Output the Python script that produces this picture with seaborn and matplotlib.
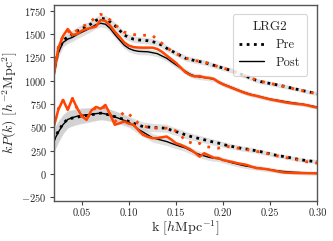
import numpy as np
import pandas as pd
import matplotlib
matplotlib.use("Agg")
import matplotlib.pyplot as plt
import seaborn as sns
from matplotlib.lines import Line2D

sns.set_theme(style="ticks")
plt.rcParams["font.family"] = ["serif"]
plt.rcParams["font.serif"] = ["cmr10", "DejaVu Serif"]
plt.rcParams["mathtext.fontset"] = "cm"
plt.rcParams["axes.formatter.use_mathtext"] = True

k = [0.020, 0.025, 0.030, 0.035, 0.040, 0.045, 0.050, 0.055, 0.060, 0.065,
     0.070, 0.075, 0.080, 0.085, 0.090, 0.095, 0.100, 0.105, 0.110, 0.115,
     0.120, 0.125, 0.130, 0.135, 0.140, 0.145, 0.150, 0.155, 0.160, 0.165,
     0.170, 0.175, 0.180, 0.185, 0.190, 0.195, 0.200, 0.205, 0.210, 0.215,
     0.220, 0.225, 0.230, 0.235, 0.240, 0.245, 0.250, 0.255, 0.260, 0.265,
     0.270, 0.275, 0.280, 0.285, 0.290, 0.295, 0.300]

# upper group (monopole-like)
up_post_mean = [1075, 1300, 1410, 1445, 1465, 1495, 1520, 1544, 1570, 1600,
                1615, 1605, 1560, 1495, 1437, 1380, 1345, 1325, 1315, 1312,
                1310, 1300, 1290, 1265, 1241, 1205, 1170, 1135, 1100, 1070,
                1050, 1040, 1035, 1027, 1015, 990, 965, 945, 925, 905,
                885, 868, 852, 840, 828, 815, 803, 795, 787, 778,
                770, 762, 755, 748, 738, 728, 718]
up_post_data = [1050, 1350, 1480, 1554, 1490, 1500, 1535, 1555, 1565, 1580,
                1650, 1640, 1590, 1525, 1470, 1410, 1375, 1360, 1355, 1354,
                1354, 1354, 1340, 1310, 1270, 1230, 1190, 1140, 1090, 1060,
                1045, 1050, 1035, 1030, 1020, 985, 960, 940, 920, 900,
                880, 862, 848, 838, 825, 812, 800, 790, 780, 770,
                762, 755, 750, 745, 735, 722, 712]
up_pre_mean = [1080, 1320, 1430, 1470, 1495, 1530, 1560, 1579, 1610, 1645,
               1669, 1660, 1630, 1590, 1540, 1490, 1462, 1445, 1437, 1432,
               1428, 1418, 1405, 1380, 1348, 1320, 1294, 1268, 1241, 1228,
               1215, 1205, 1195, 1180, 1165, 1150, 1135, 1120, 1105, 1085,
               1065, 1045, 1025, 1005, 990, 980, 970, 960, 950, 940,
               928, 915, 905, 893, 882, 872, 862]
up_pre_data = [1060, 1360, 1480, 1530, 1500, 1540, 1580, 1600, 1640, 1680,
               1711, 1690, 1650, 1600, 1560, 1520, 1508, 1495, 1488, 1485,
               1490, 1483, 1440, 1400, 1355, 1320, 1290, 1265, 1241, 1230,
               1215, 1210, 1200, 1185, 1165, 1150, 1135, 1120, 1100, 1085,
               1065, 1045, 1028, 1008, 992, 982, 972, 960, 948, 938,
               926, 914, 903, 892, 880, 870, 860]
up_sigma = [55, 52, 50, 48, 46, 45, 44, 43, 42, 41,
            40, 40, 39, 38, 38, 37, 36, 35, 35, 34,
            34, 33, 33, 32, 32, 31, 31, 30, 30, 29,
            29, 28, 28, 28, 27, 27, 27, 26, 26, 26,
            25, 25, 25, 24, 24, 24, 24, 23, 23, 23,
            23, 22, 22, 22, 22, 22, 22]

# lower group (quadrupole-like)
lo_post_mean = [350, 450, 530, 585, 605, 620, 630, 635, 640, 648,
                653, 645, 630, 612, 595, 575, 555, 520, 480, 450,
                420, 390, 375, 362, 349, 330, 312, 295, 280, 255,
                230, 210, 195, 180, 171, 165, 150, 135, 120, 108,
                95, 85, 78, 70, 62, 55, 48, 40, 33, 28,
                24, 20, 18, 15, 13, 11, 10]
lo_post_data = [500, 690, 795, 688, 813, 706, 620, 581, 680, 720,
                700, 741, 640, 528, 545, 563, 540, 528, 470, 421,
                400, 385, 385, 395, 403, 370, 330, 314, 290, 265,
                230, 188, 224, 200, 175, 171, 150, 140, 130, 117,
                108, 99, 80, 65, 60, 55, 45, 35, 25, 17,
                15, 13, 12, 11, 10, 9, 8]
lo_pre_mean = [360, 460, 540, 590, 600, 610, 620, 627, 635, 645,
               653, 645, 630, 616, 600, 585, 563, 545, 525, 509,
               505, 500, 497, 494, 492, 470, 455, 440, 420, 405,
               392, 380, 368, 355, 342, 332, 318, 305, 295, 285,
               275, 268, 260, 250, 240, 228, 217, 205, 195, 188,
               178, 168, 158, 150, 143, 138, 135]
lo_pre_data = [520, 700, 790, 700, 810, 700, 620, 585, 670, 710,
               700, 720, 640, 560, 610, 670, 640, 600, 545, 520,
               500, 492, 492, 492, 492, 492, 460, 420, 349, 340,
               314, 330, 300, 290, 280, 278, 300, 296, 290, 280,
               270, 262, 255, 245, 235, 225, 212, 200, 190, 180,
               171, 160, 150, 140, 130, 122, 117]
lo_sigma = [125, 112, 100, 92, 86, 82, 80, 77, 74, 72,
            70, 67, 64, 62, 60, 57, 55, 53, 51, 49,
            47, 45, 44, 43, 42, 41, 40, 39, 38, 37,
            36, 35, 34, 33, 32, 31, 30, 30, 29, 28,
            28, 27, 27, 26, 26, 25, 25, 24, 24, 24,
            23, 23, 23, 22, 22, 22, 22]

ORANGE = "#ff4500"
BAND = "#c8c8c8"

fig = plt.figure(figsize=(3.33, 2.41), dpi=100)
ax = fig.add_axes([0.161, 0.165, 0.792, 0.814])

ka = np.array(k)
for mean, sig in [(up_pre_mean, up_sigma), (up_post_mean, up_sigma),
                  (lo_pre_mean, lo_sigma), (lo_post_mean, lo_sigma)]:
    m = np.array(mean, dtype=float)
    s = np.array(sig, dtype=float)
    ax.fill_between(ka, m - s, m + s, color=BAND, alpha=0.55, lw=0)

df = pd.DataFrame({"k": k,
                   "up_post_mean": up_post_mean, "up_post_data": up_post_data,
                   "up_pre_mean": up_pre_mean, "up_pre_data": up_pre_data,
                   "lo_post_mean": lo_post_mean, "lo_post_data": lo_post_data,
                   "lo_pre_mean": lo_pre_mean, "lo_pre_data": lo_pre_data})

for col in ["up_pre_mean", "lo_pre_mean"]:
    sns.lineplot(data=df, x="k", y=col, ax=ax, color="black", lw=2.0,
                 linestyle=(0, (1, 1.6)))
for col in ["up_post_mean", "lo_post_mean"]:
    sns.lineplot(data=df, x="k", y=col, ax=ax, color="black", lw=1.0)
for col in ["up_pre_data", "lo_pre_data"]:
    sns.lineplot(data=df, x="k", y=col, ax=ax, color=ORANGE, lw=2.0,
                 linestyle=(1.3, (1, 2.6)))
for col in ["up_post_data", "lo_post_data"]:
    sns.lineplot(data=df, x="k", y=col, ax=ax, color=ORANGE, lw=1.8)

ax.set_xlim(0.02, 0.30)
ax.set_ylim(-290, 1810)
ax.set_xticks([0.05, 0.10, 0.15, 0.20, 0.25, 0.30])
ax.set_xticklabels(["0.05", "0.10", "0.15", "0.20", "0.25", "0.30"])
ax.set_yticks([-250, 0, 250, 500, 750, 1000, 1250, 1500, 1750])
ax.tick_params(labelsize=7.5, length=3, width=0.8, color="#444444", pad=2)
for sp in ax.spines.values():
    sp.set_color("#555555")
    sp.set_linewidth(1.0)
ax.set_xlabel(r"k $[h\mathrm{Mpc}^{-1}]$", fontsize=10, labelpad=1)
ax.set_ylabel(r"$kP(k)$ $[h^{-2}\mathrm{Mpc}^2]$", fontsize=10, labelpad=1)

handles = [Line2D([], [], color="black", lw=2.0, linestyle=(0, (1, 1.6))),
           Line2D([], [], color="black", lw=1.0)]
leg = ax.legend(handles, ["Pre", "Post"], title="LRG2", loc="upper right",
                fontsize=9, title_fontsize=9.5, frameon=True,
                handlelength=2.0, handletextpad=0.9, borderpad=0.55,
                labelspacing=0.45, bbox_to_anchor=(0.985, 0.985))
leg.get_frame().set_edgecolor("#cccccc")
leg.get_frame().set_linewidth(0.8)

fig.savefig("out.png", dpi=100)
